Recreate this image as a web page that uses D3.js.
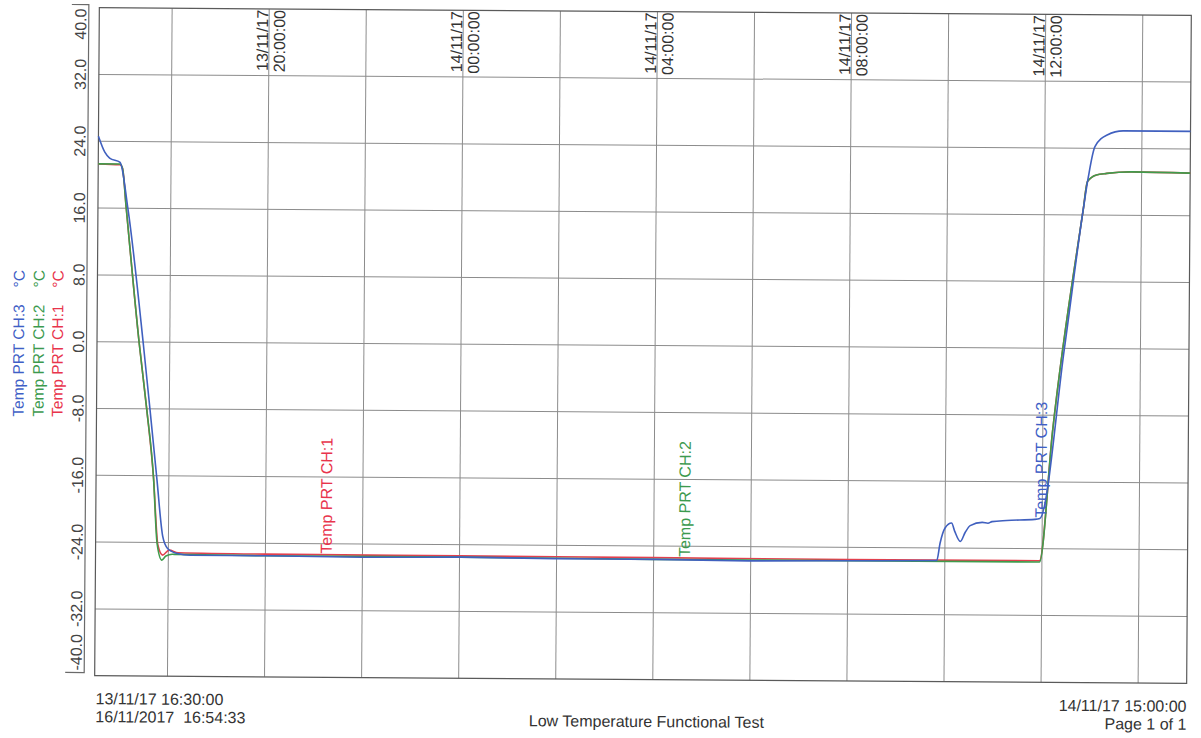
<!DOCTYPE html>
<html>
<head>
<meta charset="utf-8">
<script src="https://cdn.jsdelivr.net/npm/d3@7"></script>
<style>
  body { margin: 0; background: #fff; }
  svg { display: block; font-family: "Liberation Sans", Arial, sans-serif; }
</style>
</head>
<body>
<svg></svg>
<script>
// readings, [time on 13-14/11/17, °C]
const ch3 = [
  ["13 16:30", 24.6], ["13 16:38", 22.7], ["13 16:44", 22.0], ["13 16:57", 21.5],
  ["13 17:07", 16.0], ["13 17:27", 0.0], ["13 17:36", -8.0], ["13 17:45", -16.2],
  ["13 17:53", -23.3], ["13 17:59", -24.7], ["13 18:11", -25.3], ["13 18:27", -25.5],
  ["13 20:00", -25.5], ["13 22:00", -25.6], ["14 00:00", -25.5], ["14 02:00", -25.6],
  ["14 04:00", -25.6], ["14 06:00", -25.7], ["14 08:00", -25.6], ["14 09:50", -25.5],
  ["14 09:54", -23.4], ["14 10:00", -21.6], ["14 10:08", -21.0], ["14 10:12", -22.0],
  ["14 10:19", -23.2], ["14 10:25", -22.1], ["14 10:31", -21.3], ["14 10:46", -20.9],
  ["14 10:53", -21.0], ["14 10:58", -20.8], ["14 11:16", -20.65], ["14 11:51", -20.5],
  ["14 11:57", -20.4], ["14 12:26", 0.0], ["14 12:48", 16.6], ["14 12:54", 20.5],
  ["14 13:02", 24.2], ["14 13:17", 25.6], ["14 13:37", 26.1], ["14 15:00", 26.1]
];
const ch2 = [
  ["13 16:30", 21.3], ["13 16:57", 21.3], ["13 17:00", 20.8], ["13 17:05", 16.0],
  ["13 17:22", 0.0], ["13 17:32", -8.0], ["13 17:41", -16.2], ["13 17:46", -24.1],
  ["13 17:52", -26.1], ["13 17:57", -25.6], ["13 18:05", -25.4], ["13 20:00", -25.5],
  ["14 00:00", -25.5], ["14 04:00", -25.6], ["14 08:00", -25.6], ["14 11:57", -25.6],
  ["14 12:12", -10.0], ["14 12:48", 16.6], ["14 12:53", 20.0], ["14 13:04", 20.8],
  ["14 13:17", 21.0], ["14 13:48", 21.2], ["14 15:00", 21.1]
];
const ch1 = [
  ["13 16:30", 21.3], ["13 16:57", 21.2], ["13 17:00", 20.8], ["13 17:05", 16.0],
  ["13 17:22", 0.0], ["13 17:32", -8.0], ["13 17:41", -16.2], ["13 17:47", -24.3],
  ["13 17:53", -25.5], ["13 18:01", -24.9], ["13 18:12", -25.2], ["13 20:00", -25.3],
  ["14 00:00", -25.35], ["14 04:00", -25.4], ["14 08:00", -25.45], ["14 11:57", -25.45],
  ["14 12:12", -10.0], ["14 12:48", 16.6], ["14 12:53", 20.0], ["14 13:04", 20.8],
  ["14 13:17", 21.0], ["14 13:48", 21.2], ["14 15:00", 21.1]
];

const channelNames = ["Temp PRT CH:1", "Temp PRT CH:2", "Temp PRT CH:3"];
const channelColors = ["#e2404e", "#3f9c4c", "#4060bf"];
const labelColors = ["#e8344c", "#3c9a4e", "#3f5fc6"];
// where each name sits on its trace
const tagTimes = ["13 21:22", "14 04:45", "14 12:05"];
const tagValues = [-25.2, -25.3, -20.3];

const yTicks = [40, 32, 24, 16, 8, 0, -8, -16, -24, -32, -40];
const topTicks = ["13 20:00", "14 00:00", "14 04:00", "14 08:00", "14 12:00"];
const startLabel = "13/11/17 16:30:00";
const endLabel = "14/11/17 15:00:00";
const printedLabel = "16/11/2017  16:54:33";
const title = "Low Temperature Functional Test";
const pageLabel = "Page 1 of 1";

const parse = d3.timeParse("%Y-%m-%d %H:%M");
const t = s => parse("2017-11-" + s);

const sizes = {
  width: 1201,
  height: 738,
  left: 97,
  right: 1189,
  top: 11.5,
  bottom: 679.5
};

const svg = d3.select("svg")
  .attr("width", sizes.width)
  .attr("height", sizes.height);

// the scanned sheet is a little skewed
const page = svg.append("g").attr("transform", "rotate(0.4, 643, 345)");

const x = d3.scaleTime()
  .domain([t("13 16:30"), t("14 15:00")])
  .range([sizes.left, sizes.right]);

const y = d3.scaleLinear()
  .domain([-40, 40])
  .range([sizes.bottom, sizes.top]);

// grid
page.append("g")
  .selectAll("line")
  .data(d3.timeHour.every(2).range(t("13 18:00"), t("14 15:00")))
  .join("line")
  .attr("x1", d => x(d)).attr("x2", d => x(d))
  .attr("y1", sizes.top).attr("y2", sizes.bottom)
  .attr("stroke", "#8c8c8c").attr("stroke-width", 1);

page.append("g")
  .selectAll("line")
  .data(yTicks.slice(1, -1))
  .join("line")
  .attr("x1", sizes.left).attr("x2", sizes.right)
  .attr("y1", d => y(d)).attr("y2", d => y(d))
  .attr("stroke", "#8c8c8c").attr("stroke-width", 1);

page.append("rect")
  .attr("x", sizes.left).attr("y", sizes.top)
  .attr("width", sizes.right - sizes.left)
  .attr("height", sizes.bottom - sizes.top)
  .attr("fill", "none")
  .attr("stroke", "#5a5a5a").attr("stroke-width", 1.2);

// y axis, drawn as a bracket with rotated labels
const axisX = 86.5;
page.append("path")
  .attr("d", `M${axisX - 17},${sizes.top - 3}H${axisX}V${sizes.bottom - 3}H${axisX - 19}`)
  .attr("fill", "none")
  .attr("stroke", "#6a6a6a").attr("stroke-width", 1.2);

const tickPos = d => d === 40 ? y(d) + 1 : d === -40 ? y(d) - 5 : y(d);
page.append("g")
  .selectAll("text")
  .data(yTicks)
  .join("text")
  .attr("transform", d => `translate(${axisX - 2.5},${tickPos(d)}) rotate(-90)`)
  .attr("text-anchor", d => d === 40 ? "end" : d === -40 ? "start" : "middle")
  .attr("font-size", 16)
  .attr("fill", "#444")
  .text(d => d.toFixed(1));

// date/time labels along the top
const fmtDate = d3.timeFormat("%d/%m/%y");
const fmtTime = d3.timeFormat("%H:%M:%S");
const topLabels = page.append("g")
  .selectAll("g")
  .data(topTicks.map(t))
  .join("g")
  .attr("transform", d => `translate(${x(d)},${sizes.top + 1}) rotate(-90)`)
  .attr("font-size", 16)
  .attr("fill", "#333");
topLabels.append("text")
  .attr("text-anchor", "end")
  .attr("y", -1)
  .text(d => fmtDate(d));
topLabels.append("text")
  .attr("text-anchor", "end")
  .attr("y", 16)
  .text(d => fmtTime(d));

// traces
const line = d3.line()
  .x(d => x(t(d[0])))
  .y(d => y(d[1]))
  .curve(d3.curveMonotoneX);

[ch1, ch2, ch3].forEach((series, i) => {
  page.append("path")
    .attr("d", line(series))
    .attr("fill", "none")
    .attr("stroke", channelColors[i])
    .attr("stroke-width", 1.6);
});

// trace names
page.append("g")
  .selectAll("text")
  .data(channelNames)
  .join("text")
  .attr("transform", (d, i) => `translate(${x(t(tagTimes[i]))},${y(tagValues[i])}) rotate(-90)`)
  .attr("font-size", 16)
  .attr("fill", (d, i) => labelColors[i])
  .text(d => d);

// legend on the left
const legendX = [63, 44, 24];
const legend = page.append("g")
  .selectAll("text")
  .data(channelNames)
  .join("text")
  .attr("transform", (d, i) => `translate(${legendX[i]},421) rotate(-90)`)
  .attr("font-size", 15.5)
  .attr("fill", (d, i) => labelColors[i]);
legend.append("tspan").text(d => d);
legend.append("tspan").attr("dx", 17).text("°C");

// footer
const footer = page.append("g").attr("font-size", 16).attr("fill", "#333");
footer.append("text").attr("x", sizes.left + 1).attr("y", 708).text(startLabel);
footer.append("text").attr("x", sizes.left + 1).attr("y", 726)
  .style("white-space", "pre").text(printedLabel);
footer.append("text").attr("x", 649).attr("y", 727).attr("text-anchor", "middle").text(title);
footer.append("text").attr("x", sizes.right).attr("y", 708).attr("text-anchor", "end").text(endLabel);
footer.append("text").attr("x", sizes.right).attr("y", 726).attr("text-anchor", "end").text(pageLabel);
</script>
</body>
</html>
